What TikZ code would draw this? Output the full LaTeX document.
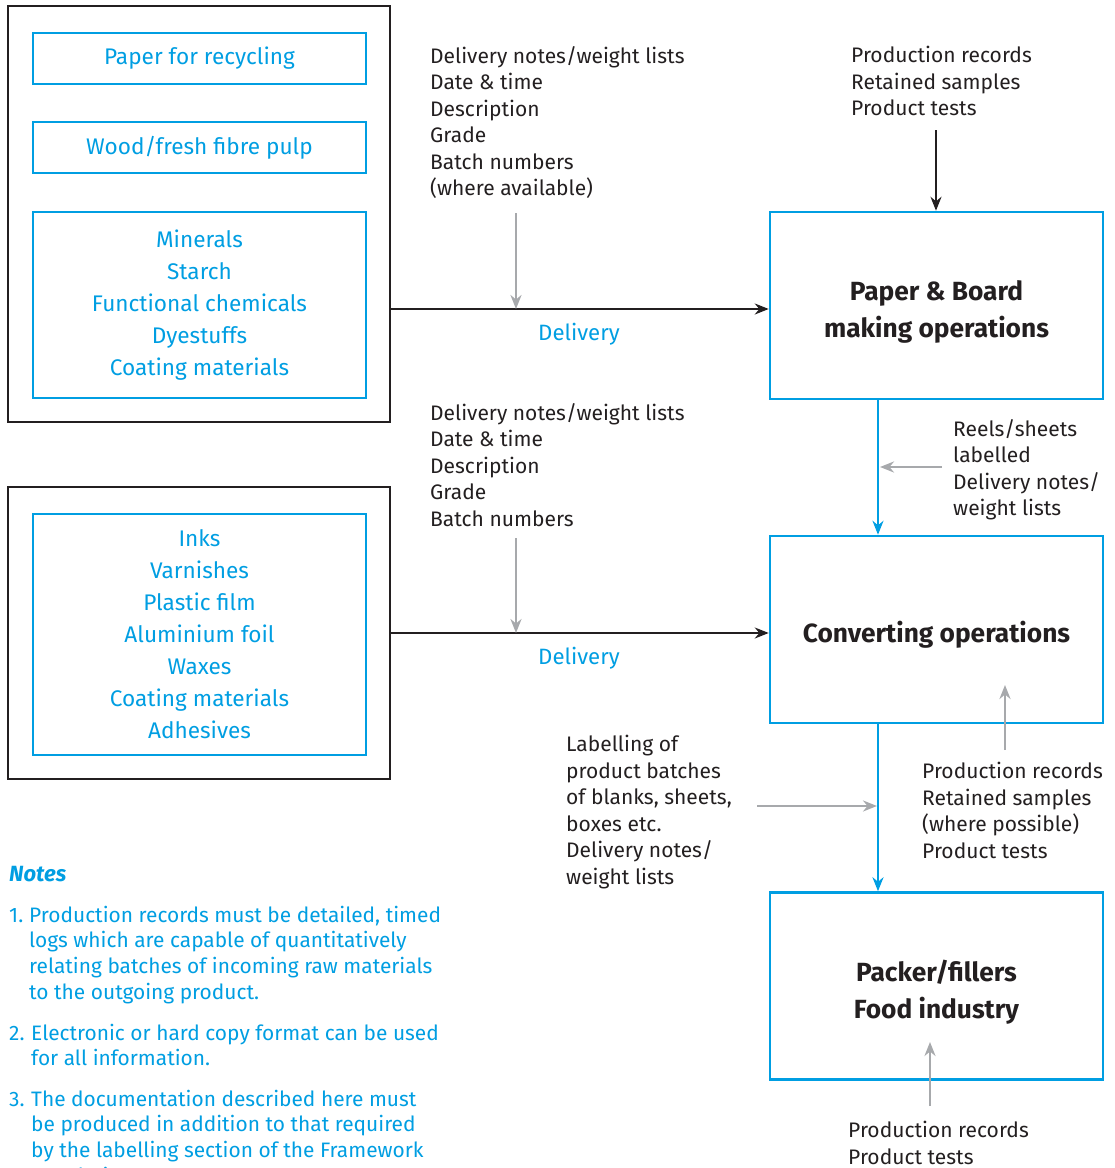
\documentclass[tikz,border=0pt]{standalone}
\usepackage{fontspec}
\setmainfont{Fira Sans}
\usetikzlibrary{arrows.meta}
\definecolor{cblue}{RGB}{0,158,226}
\definecolor{cgray}{RGB}{167,169,172}
\definecolor{cblack}{RGB}{35,31,32}
\begin{document}
\begin{tikzpicture}[x=1pt,y=-1pt,
  outerbox/.style={draw=cblack,line width=2pt,minimum width=382pt,inner sep=0},
  bluebox/.style={draw=cblue,line width=2.5pt,minimum width=333pt,inner sep=0,
    text=cblue,align=center,font=\fontsize{22.6}{32}\selectfont},
  procbox/.style={draw=cblue,line width=2.5pt,minimum width=333pt,minimum height=187pt,inner sep=0},
  proctext/.style={text=cblack,align=center,inner sep=0,font=\fontsize{26.3}{37}\selectfont\bfseries},
  body/.style={font=\fontsize{21}{26.5}\selectfont,text=cblack,align=left,inner sep=0,anchor=north west},
  notes/.style={font=\fontsize{20.9}{25.7}\selectfont,text=cblue,align=left,inner sep=0,anchor=north west},
  dlv/.style={font=\fontsize{22.2}{26}\selectfont,text=cblue,inner sep=0},
  blackarr/.style={draw=cblack,line width=2pt,-{Stealth[length=14pt,width=11pt]}},
  bluearr/.style={draw=cblue,line width=2.5pt,-{Stealth[length=14pt,width=11pt]}},
  grayarr/.style={draw=cgray,line width=2.5pt,-{Stealth[length=14pt,width=11pt]}},
]
\useasboundingbox (0,0) rectangle (1115,1168);

% left supply boxes
\node[outerbox,minimum height=416pt] (outerA) at (199,214) {};
\node[bluebox,minimum height=51pt] (paper) at (199.5,58.5) {Paper for recycling};
\node[bluebox,minimum height=51pt] (wood) at (199.5,147.5) {Wood/fresh fibre pulp};
\node[bluebox,minimum height=186pt] (minerals) at (199.5,305) {Minerals\\Starch\\Functional chemicals\\Dyestuffs\\Coating materials};

\node[outerbox,minimum height=292pt] (outerB) at (199,633) {};
\node[bluebox,minimum height=241pt] (inks) at (199.5,634.5) {Inks\\Varnishes\\Plastic film\\Aluminium foil\\Waxes\\Coating materials\\Adhesives};

% process boxes
\node[procbox] (pb) at (936.5,305.5) {};
\node[proctext] (pbt) at ([yshift=-6pt]pb.center) {Paper \& Board\\making operations};
\node[procbox] (conv) at (936.5,629.5) {};
\node[proctext] (convt) at ([yshift=-5.5pt]conv.center) {Converting operations};
\node[procbox] (pack) at (936.5,986) {};
\node[proctext] (packt) at ([yshift=-6pt]pack.center) {Packer/fillers\\Food industry};

% texts
\node[body] (docA) at (430,46) {Delivery notes/weight lists\\Date \& time\\Description\\Grade\\Batch numbers\\(where available)};
\node[body] (prodA) at (851,46) {Production records\\Retained samples\\Product tests};
\node[body] (docB) at (430,403) {Delivery notes/weight lists\\Date \& time\\Description\\Grade\\Batch numbers};
\node[body] (reels) at (953,419) {Reels/sheets\\labelled\\Delivery notes/\\weight lists};
\node[body] (labl) at (566,735) {Labelling of\\product batches\\of blanks, sheets,\\boxes etc.\\Delivery notes/\\weight lists};
\node[body] (prodB) at (922,762) {Production records\\Retained samples\\(where possible)\\Product tests};
\node[body] (prodC) at (848,1121) {Production records\\Product tests};

\node[dlv] (dA) at (579,334) {Delivery};
\node[dlv] (dB) at (579,658) {Delivery};

% notes
\node[notes,font=\fontsize{22}{26}\selectfont\bfseries\itshape] (nt) at (9,866) {Notes};
\node[notes] (n1) at (9,904) {\strut 1.};
\node[notes] (t1) at (29,904) {\strut Production records must be detailed, timed\\logs which are capable of quantitatively\\relating batches of incoming raw materials\\to the outgoing product.};
\node[notes] (n2) at (9,1022) {\strut 2.};
\node[notes] (t2) at (31,1022) {\strut Electronic or hard copy format can be used\\for all information.};
\node[notes] (n3) at (9,1088) {\strut 3.};
\node[notes] (t3) at (31,1088) {\strut The documentation described here must\\be produced in addition to that required\\by the labelling section of the Framework\\Regulation.};

% junction coordinates
\coordinate (jA) at (516,309);
\coordinate (jB) at (516,633);
\coordinate (sA) at (516,213);
\coordinate (sB) at (516,538);
\coordinate (tA) at (936,130);
\coordinate (rS) at (942,467);
\coordinate (rE) at (880,467);
\coordinate (lS) at (757,806);
\coordinate (lE) at (877,806);
\coordinate (pS) at (1005,750);
\coordinate (pE) at (1005,685);
\coordinate (qS) at (930,1106);
\coordinate (qE) at (930,1042);

% connectors
\draw[blackarr] (outerA.east |- jA) -- (pb.west |- jA);
\draw[blackarr] (outerB.east |- jB) -- (conv.west |- jB);
\draw[grayarr] (sA) -- (jA);
\draw[grayarr] (sB) -- (jB);
\draw[blackarr] (tA) -- (pb.north -| tA);
\draw[bluearr] (pb.south -| 878,0) -- (conv.north -| 878,0);
\draw[bluearr] (conv.south -| 878,0) -- (pack.north -| 878,0);
\draw[grayarr] (rS) -- (rE);
\draw[grayarr] (lS) -- (lE);
\draw[grayarr] (pS) -- (pE);
\draw[grayarr] (qS) -- (qE);
\end{tikzpicture}
\end{document}
